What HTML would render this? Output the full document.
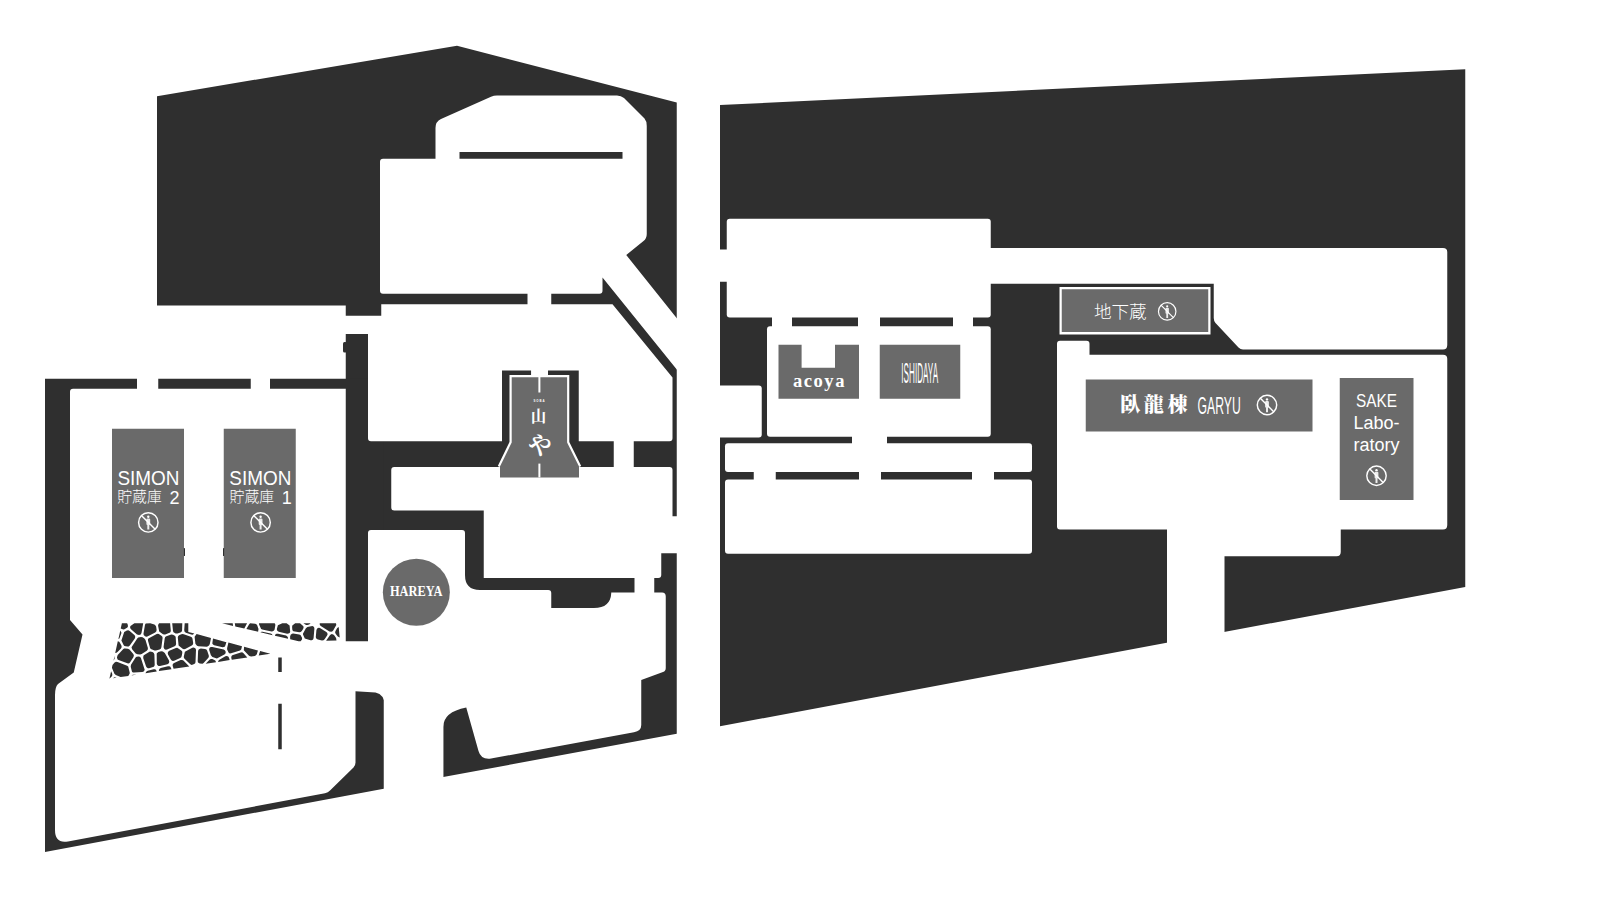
<!DOCTYPE html>
<html lang="ja">
<head>
<meta charset="utf-8">
<title>Floor Map</title>
<style>
  html, body { margin: 0; padding: 0; background: #ffffff; }
  body { width: 1599px; height: 905px; overflow: hidden; position: relative; }
  svg { position: absolute; left: 0; top: 0; display: block; }
  .dk { fill: #2f2f2f; }
  .wh { fill: #ffffff; }
  .gy { fill: #6a6a6a; }
  text { fill: #ffffff; }
  .sans { font-family: "Liberation Sans", "Noto Sans CJK JP", sans-serif; }
  .serif { font-family: "Liberation Serif", "Noto Serif CJK SC", serif; }
  .cjk { font-family: "Liberation Sans", "Noto Sans CJK JP", sans-serif; font-weight: 300; }
  .ic circle { fill: none; stroke: #ffffff; }
  .ic line { stroke: #ffffff; }
  .ic path { fill: #ffffff; fill-opacity: 0.88; }
</style>
</head>
<body>
<svg width="1599" height="905" viewBox="0 0 1599 905">
<defs>
  <g id="noentry" class="ic">
    <circle cx="0" cy="0" r="9.7"/>
    <circle cx="0" cy="-5.6" r="1.2" style="fill:#fff;stroke:none"/>
    <path d="M-1.9,-2.9 Q-1.9,-4 -0.8,-4 H0.8 Q1.9,-4 1.9,-2.9 V1.4 Q1.9,2.6 1,2.6 V7.2 H-1 V2.6 Q-1.9,2.6 -1.9,1.4 Z"/>
    <line x1="-6.9" y1="-6.9" x2="6.9" y2="6.9"/>
  </g>
</defs>

<!-- ===================== LEFT COMPLEX : dark base ===================== -->
<g id="left-dark" class="dk">
  <path d="M157,96.25 L457,45.75 L676.75,102.5 L676.75,733.75 L443.25,777 L443.25,641.25 L345.75,641.25 L345.75,305.5 L157,305.5 Z"/>
  <path d="M45,378.75 L383.75,378.75 L383.75,788.75 L45,852 Z"/>
  <rect x="343" y="342" width="4" height="10.5" rx="1.5"/>
</g>

<!-- ===================== LEFT COMPLEX : white rooms ===================== -->
<g id="left-white" class="wh">
  <!-- upper rooms + diagonal corridor -->
  <path d="M380,161.75 Q380,158.75 383,158.75 H435.5 V128 Q435.5,121.5 441,119 L491,96.8 Q493.75,95.5 497,95.5 H617 Q621,95.5 624,98 L644.5,118.5 Q646.75,121 646.75,126 V234 Q646.75,238.5 643.5,241 L626.25,255 L680,322.2 V373.4 L602.5,277.5 V290.75 Q602.5,293.75 599.5,293.75 H383 Q380,293.75 380,290.75 Z"/>
  <rect x="527.5" y="292" width="23.75" height="14"/>
  <!-- middle room -->
  <path d="M381.25,304.25 H612.5 L672.5,377.5 V438.25 Q672.5,441.25 669.5,441.25 H371 Q368,441.25 368,438.25 V334 H340 V315.75 H381.25 Z"/>
  <rect x="613.75" y="438" width="20" height="32"/>
  <!-- room 3 -->
  <path d="M394.25,467 H669.5 Q672.5,467 672.5,470 V516.25 H680 V553.25 H661.25 V575 Q661.25,578 658.25,578 H483.75 V510.5 H394.25 Q391.25,510.5 391.25,507.5 V470 Q391.25,467 394.25,467 Z"/>
  <rect x="634.5" y="576" width="19.75" height="18"/>
  <!-- HAREYA room -->
  <path d="M368,533 Q368,530 371,530 H462 Q465,530 465,533 V575 Q465,590 480,590 H548.25 Q551.25,590 551.25,593 V608 H594 Q610.5,608 611.25,593 V592.5 H662 Q665.75,592.5 665.75,596.5 V668 Q665.75,671 663,672 L641.25,680 V725 Q641.25,731 634,732.3 L491,758.6 Q481,760 478.5,751 L466.25,707.5 Q443.25,712 443.25,727 V777 H440 V645 H368 Z"/>
  <!-- SIMON room + lower-left room -->
  <rect x="137" y="377" width="21.25" height="13"/>
  <rect x="250.75" y="377" width="19.25" height="13"/>
  <path d="M73,388.75 H345.75 V641.25 H385 V706 Q384.5,694.5 375.5,692.6 L355.5,691.3 V762.5 Q355.5,765.5 353.5,767.5 L330,790.5 Q328,792.5 325,793.2 L68,841.4 Q55,843.8 55,830 V695 Q55,687 58,684 L73.75,672.5 L82.5,634.5 L70,620 V391.75 Q70,388.75 73,388.75 Z"/>
</g>

<!-- ===================== LEFT COMPLEX : dark details ===================== -->
<g id="left-detail" class="dk">
  <rect x="459.5" y="152" width="163" height="6.75"/>
  <rect x="278.25" y="657.5" width="3.5" height="14.5"/>
  <rect x="278.25" y="703.75" width="3.5" height="45.5"/>
  <!-- soba frame -->
  <path d="M502,370.5 H531.25 V376 H548 V370.5 H578.75 V445 H502 Z"/>
</g>
<rect class="wh" x="531.25" y="369" width="16.75" height="7.5"/>

<!-- STONES -->
<g id="stones"><path class="dk" d="M243.8,650.2 L249.0,655.7 L250.0,656.3 L251.2,656.4 L254.8,655.9 L256.0,655.3 L256.8,654.2 L257.9,650.5 L244.1,646.8Z M143.7,635.0 L145.0,636.3 L146.2,636.7 L147.4,636.4 L155.2,632.4 L156.4,631.3 L156.6,629.7 L156.1,626.6 L155.5,625.4 L154.4,624.6 L150.2,623.3 L145.7,623.4 L145.0,624.7 L143.5,633.5Z M131.5,647.2 L132.1,649.3 L135.7,653.4 L137.4,654.3 L140.1,654.5 L141.7,654.1 L146.8,650.8 L147.8,649.5 L147.9,647.9 L145.5,639.9 L144.4,638.4 L142.6,637.3 L141.0,637.0 L138.2,637.6 L137.4,638.3Z M191.7,664.9 L194.2,664.1 L195.2,663.2 L195.5,662.0 L196.0,650.1 L195.7,648.8 L194.8,647.9 L193.6,647.5 L192.3,647.7 L184.9,651.8 L183.8,656.4 L183.9,657.7 L184.5,658.8 L190.3,664.2Z M210.9,646.9 L209.8,647.6 L209.2,648.8 L209.2,650.1 L210.9,655.3 L212.4,656.9 L216.9,658.4 L224.4,654.5 L225.3,653.7 L225.7,652.5 L225.5,651.2 L224.8,650.2 L223.7,649.6 L212.3,646.9Z M184.2,630.1 L184.6,631.7 L185.9,632.7 L191.2,634.6 L192.7,634.7 L194.3,633.5 L188.3,631.9 L188.3,623.3 L184.7,623.3Z M113.5,660.7 L114.6,658.8 L114.6,655.7Z M157.3,665.1 L158.5,666.0 L160.0,666.1 L167.4,664.2 L168.6,663.4 L169.3,662.0 L169.0,660.5 L164.8,652.9 L162.9,651.4 L161.1,651.2 L158.3,652.0 L156.7,653.5 L156.8,663.7Z M216.0,662.2 L215.5,660.8 L214.4,660.0 L212.3,659.1 L210.8,659.0 L209.5,659.8 L205.7,663.8Z M173.0,630.9 L173.5,632.2 L175.7,633.5 L177.5,633.5 L180.4,632.5 L181.6,631.7 L182.1,630.3 L182.3,623.3 L172.2,623.3Z M116.6,677.7 L114.5,677.3 L112.9,678.3Z M194.6,636.8 L195.4,643.8 L197.0,645.8 L198.3,646.3 L207.0,646.8 L209.0,645.4 L209.8,644.0 L211.0,637.9 L196.6,634.1Z M155.9,669.8 L154.8,669.3 L153.6,669.2 L147.7,670.7 L146.2,671.7 L145.5,673.2 L156.8,671.4Z M168.2,651.7 L167.7,653.0 L168.0,654.4 L170.8,659.5 L171.7,660.5 L172.8,660.9 L174.1,660.7 L180.2,658.0 L181.2,657.2 L181.7,656.1 L182.3,653.0 L182.2,651.6 L181.3,650.4 L177.2,647.8 L175.9,648.0 L169.3,650.8Z M128.7,646.4 L129.8,645.5 L134.8,638.4 L135.2,637.3 L135.1,636.0 L134.4,635.0 L129.7,630.9 L128.3,630.3 L126.9,630.5 L124.2,632.0 L121.4,640.6 L123.6,645.0 L124.4,645.9 L127.4,646.6Z M247.3,657.4 L243.3,653.0 L242.1,652.3 L240.7,652.4 L233.0,654.9 L231.9,655.6 L231.3,656.8 L231.3,658.1 L231.8,659.8Z M132.8,674.8 L131.4,675.4 L136.7,674.6Z M148.4,638.6 L147.9,639.6 L148.0,640.8 L150.1,648.0 L150.8,649.1 L154.6,650.5 L156.0,650.5 L159.6,649.5 L160.8,648.7 L161.4,647.3 L162.6,638.1 L162.4,636.7 L161.4,635.7 L159.2,634.2 L158.0,633.8 L156.7,634.0Z M260.1,651.1 L258.7,655.6 L270.4,653.8Z M127.9,648.7 L125.2,648.4 L124.1,648.6 L123.1,649.2 L117.7,655.0 L116.9,657.4 L117.6,659.4 L118.5,660.1 L128.1,663.6 L129.2,663.2 L130.0,662.4 L133.5,656.9 L133.9,655.3 L133.3,653.9 L129.5,649.6Z M115.8,675.0 L120.6,677.1 L128.3,675.9 L129.7,673.6 L129.7,672.5 L128.2,666.5 L127.1,665.8 L117.5,661.9 L116.0,661.8 L114.6,662.6 L112.5,665.0 L111.9,667.7 L114.4,673.7Z M229.0,657.8 L228.2,656.6 L226.8,656.0 L225.4,656.3 L219.4,659.7 L218.4,660.7 L218.1,661.9 L229.7,660.1Z M159.2,631.4 L163.0,634.2 L164.1,634.6 L165.2,634.5 L170.1,632.5 L170.7,631.6 L170.8,630.5 L170.1,623.3 L159.1,623.3 L158.2,624.7 L158.1,625.8Z M173.1,663.7 L172.6,664.8 L172.7,666.0 L173.6,668.8 L189.3,666.4 L183.4,660.6 L182.1,659.9 L180.6,660.1 L174.1,662.9Z M111.7,676.4 L112.3,675.2 L112.2,673.7 L111.1,671.2 L109.4,678.8Z M159.6,668.8 L158.9,670.0 L159.0,671.1 L171.5,669.2 L170.4,666.8 L169.3,666.2 L168.0,666.2 L160.8,668.1Z M228.7,652.8 L229.8,653.4 L231.1,653.3 L240.0,650.4 L241.2,649.6 L242.0,646.2 L228.4,642.6 L227.1,648.2 L227.2,649.7Z M178.6,645.6 L182.6,648.8 L183.9,649.3 L185.2,649.0 L191.8,645.6 L192.9,644.5 L193.2,643.0 L192.5,638.7 L192.0,637.5 L190.8,636.7 L183.8,634.2 L182.1,634.1 L179.5,635.0 L178.2,636.0 L177.8,637.6Z M197.9,662.2 L198.7,663.1 L199.8,663.6 L202.5,663.8 L203.6,663.1 L208.2,658.0 L208.8,656.9 L208.8,655.5 L207.2,650.7 L206.4,649.5 L205.0,649.0 L200.8,648.6 L199.5,648.9 L198.5,649.8 L198.1,651.1 L197.7,661.0Z M213.0,638.5 L212.3,643.5 L213.0,644.5 L214.2,645.2 L222.6,647.2 L223.9,647.1 L225.0,646.4 L226.4,642.3Z M144.7,669.8 L141.0,658.2 L140.2,657.0 L138.9,656.5 L136.6,656.7 L135.6,657.6 L131.0,664.8 L130.7,666.7 L132.0,671.7 L132.9,672.4 L134.1,672.6 L142.2,672.1 L143.3,671.8 L144.1,671.0Z M119.4,638.4 L121.3,633.5 L121.4,632.4 L120.3,630.6 L118.4,638.9Z M163.8,648.1 L164.6,649.2 L165.8,649.7 L167.1,649.5 L174.6,646.3 L175.8,645.3 L176.1,643.8 L175.7,637.3 L175.2,636.0 L173.0,634.7 L171.3,634.6 L166.4,636.3 L165.2,637.1 L164.7,638.4 L163.6,646.8Z M153.8,666.8 L154.5,665.8 L154.7,664.7 L154.4,654.5 L153.8,653.0 L152.5,652.1 L149.9,651.6 L144.2,655.0 L143.4,655.8 L143.2,658.0 L146.1,666.5 L146.8,667.6 L147.9,668.2 L149.1,668.2Z M130.5,626.0 L130.1,627.1 L130.3,628.3 L131.0,629.3 L137.0,634.5 L139.0,635.1 L140.7,634.4 L141.5,633.0 L143.2,623.3 L134.4,623.3Z M121.7,647.0 L121.4,645.4 L119.9,642.7 L119.2,641.8 L117.8,641.3 L115.2,652.9 L116.5,652.8 L117.5,652.1 L121.0,648.4Z M120.7,628.4 L123.3,629.6 L124.5,629.3 L127.4,627.6 L128.0,626.3 L127.7,624.4 L127.1,623.3 L121.9,623.3Z M319.1,627.8 L317.8,628.1 L316.9,629.0 L316.4,630.2 L315.8,636.9 L316.0,638.1 L316.8,639.1 L317.9,639.6 L322.0,640.4 L323.5,640.2 L324.6,639.3 L327.1,635.6 L327.6,634.3 L327.3,633.0 L326.4,632.0 L320.3,628.2Z M338.7,626.9 L337.2,627.9 L335.5,630.9 L335.1,632.3 L335.6,633.7 L337.8,636.6 L339.7,637.6Z M276.5,633.7 L275.3,634.6 L274.9,635.7 L288.1,638.8 L287.8,636.9 L286.1,635.6 L278.0,633.7Z M295.2,623.3 L292.3,625.6 L292.1,626.9 L292.3,629.4 L292.6,630.5 L293.4,631.3 L299.3,632.3 L300.7,632.0 L301.8,631.0 L303.2,628.7 L303.6,627.5 L303.4,626.3 L300.0,623.3Z M272.6,635.2 L271.8,633.9 L270.7,633.4 L262.6,631.7 L261.5,631.7 L260.4,632.3Z M336.5,640.6 L336.1,637.9 L334.0,635.1 L333.1,634.4 L331.9,634.1 L330.8,634.4 L329.9,635.2 L326.1,640.8Z M311.8,640.3 L313.1,639.5 L313.6,638.1 L314.4,628.8 L314.2,627.6 L313.5,626.6 L312.4,626.1 L307.4,627.1 L305.9,628.3 L302.9,633.7 L303.1,634.8 L304.8,638.4 L310.4,640.3Z M258.1,631.8 L258.5,629.1 L257.2,625.3 L256.4,624.2 L255.2,623.7 L250.1,623.3 L249.0,624.4 L246.4,629.0Z M319.7,623.3 L319.8,625.0 L320.8,626.0 L329.4,631.4 L331.3,631.8 L332.5,631.3 L333.2,630.5 L336.3,625.1 L336.0,623.3Z M303.4,623.3 L306.1,625.0 L307.3,625.0 L309.2,624.5 L310.6,623.3Z M259.1,624.5 L261.1,628.9 L262.2,629.5 L271.5,631.4 L272.9,631.3 L274.0,630.6 L274.6,629.4 L275.3,625.6 L275.3,624.5 L274.7,623.3 L259.0,623.3Z M247.1,623.3 L234.8,623.3 L235.3,626.4 L244.3,628.5Z M232.7,623.3 L222.0,623.3 L233.1,625.9Z M289.6,625.6 L286.6,623.3 L282.3,623.3 L277.9,625.3 L276.9,628.7 L276.9,630.0 L277.6,631.1 L278.8,631.7 L287.1,633.7 L288.5,633.6 L289.6,632.9 L290.2,631.9Z M300.7,641.3 L302.1,639.2 L302.0,637.8 L300.5,634.9 L299.2,634.4 L293.2,633.6 L292.0,633.8 L290.7,634.8 L290.1,636.6 L290.2,639.3 L298.6,641.3Z"/></g>

<!-- ===================== RIGHT COMPLEX ===================== -->
<g id="right-dark" class="dk">
  <path d="M720,105 L1465.25,69.25 L1465.25,587 L720,726.25 Z"/>
</g>
<g id="right-white" class="wh">
  <rect x="726.75" y="218.75" width="264" height="98.75" rx="3"/>
  <rect x="715" y="249.5" width="15" height="32.25"/>
  <path d="M985,248 H1443 Q1447.25,248 1447.25,252 V345 Q1447.25,349.5 1443,349.5 H1243 Q1240.5,349.5 1238.5,347.5 L1215.5,323 Q1213.75,321 1213.75,318 V283.75 H985 Z"/>
  <rect x="772" y="316" width="20" height="12"/>
  <rect x="858" y="316" width="22" height="12"/>
  <rect x="953" y="316" width="20" height="12"/>
  <rect x="767" y="326.25" width="223.75" height="110.5" rx="3"/>
  <path d="M715,385.5 H758.75 Q761.75,385.5 761.75,388.5 V434.5 Q761.75,437.5 758.75,437.5 H715 Z"/>
  <rect x="852" y="435" width="35" height="10"/>
  <rect x="725" y="443.25" width="307" height="28.75" rx="3"/>
  <rect x="753.75" y="470" width="22" height="11"/>
  <rect x="859" y="470" width="22" height="11"/>
  <rect x="972" y="470" width="22" height="11"/>
  <rect x="725" y="479.5" width="307" height="74.25" rx="3"/>
  <path d="M1060,340.75 H1086.5 Q1089.5,340.75 1089.5,343.75 V354.8 H1443 Q1447.25,354.8 1447.25,358.8 V525 Q1447.25,529.5 1443,529.5 H1340.75 V552 Q1340.75,556.25 1336.5,556.25 H1224.5 V650 H1167 V529.5 H1060 Q1057,529.5 1057,526.5 V343.75 Q1057,340.75 1060,340.75 Z"/>
</g>

<!-- ===================== GRAY BOXES + LABELS ===================== -->
<g id="labels">
  <!-- SIMON 2 -->
  <rect class="gy" x="112" y="428.75" width="72" height="149.25"/>
  <text class="sans" x="148.5" y="485.2" font-size="19.6" text-anchor="middle" textLength="62" lengthAdjust="spacingAndGlyphs">SIMON</text>
  <text class="cjk" x="117.3" y="502" font-size="14.8">貯蔵庫</text>
  <text class="sans" x="174.4" y="504.2" font-size="18" text-anchor="middle">2</text>
  <use href="#noentry" stroke-width="1.45" transform="translate(148.3,522.4) scale(1)"/>
  <!-- SIMON 1 -->
  <rect class="gy" x="223.75" y="428.75" width="72" height="149.25"/>
  <text class="sans" x="260.3" y="485.2" font-size="19.6" text-anchor="middle" textLength="62" lengthAdjust="spacingAndGlyphs">SIMON</text>
  <text class="cjk" x="229.6" y="502" font-size="14.8">貯蔵庫</text>
  <text class="sans" x="286.8" y="504.2" font-size="18" text-anchor="middle">1</text>
  <use href="#noentry" stroke-width="1.45" transform="translate(260.6,522.4) scale(1)"/>

  <rect class="dk" x="183.9" y="548" width="1.1" height="8" rx="0.5"/>
  <rect class="dk" x="223" y="548" width="1.1" height="8" rx="0.5"/>
  <!-- HAREYA -->
  <circle class="gy" cx="416.35" cy="592.2" r="33.5"/>
  <text class="serif" x="416.2" y="595.8" font-size="13.6" font-weight="bold" text-anchor="middle" textLength="52.5" lengthAdjust="spacingAndGlyphs">HAREYA</text>

  <!-- SOBA yamaya -->
  <path class="gy" d="M510.6,376.1 H568.2 V442.2 L579,466.4 V477.4 H500 V466.4 L510.6,442.2 Z"/>
  <path d="M498.8,466.4 L510.6,442.2 V376.1 H568.2 V442.2 L580.2,466.4" fill="none" stroke="#fff" stroke-width="2.2"/>
  <rect class="wh" x="538.4" y="375" width="2" height="17.5"/>
  <rect class="wh" x="538.4" y="463.6" width="2" height="13.8"/>
  <text class="sans" x="539.4" y="401.5" font-size="2.9" font-weight="bold" text-anchor="middle" letter-spacing="0.9">SOBA</text>
  <text class="serif" x="538.5" y="422.3" font-size="15.5" font-weight="bold" text-anchor="middle">山</text>
  <text class="serif" x="540" y="453.5" font-size="23.5" font-weight="bold" text-anchor="middle">や</text>

  <!-- acoya -->
  <rect class="gy" x="778.5" y="344.75" width="80.5" height="54"/>
  <rect class="wh" x="801.6" y="344" width="33.4" height="23.75"/>
  <text class="serif" x="819.5" y="386.9" font-size="18.6" font-weight="bold" text-anchor="middle" letter-spacing="1.5">acoya</text>

  <!-- ISHIDAYA -->
  <rect class="gy" x="879.75" y="344.75" width="80.5" height="54"/>
  <text class="sans" transform="translate(919.7,382.75) scale(0.29,1.06)" x="0" y="0" font-size="28" text-anchor="middle">ISHIDAYA</text>

  <!-- chikagura -->
  <rect class="wh" x="1059.5" y="287" width="151" height="47.5"/>
  <rect class="gy" x="1061.75" y="289.25" width="146.5" height="42.75"/>
  <text class="cjk" x="1120.3" y="318" font-size="17.6" text-anchor="middle">地下蔵</text>
  <use href="#noentry" stroke-width="1.3" transform="translate(1167.2,311.4) scale(0.9)"/>

  <!-- GARYU -->
  <rect class="gy" x="1085.75" y="379.5" width="226.75" height="52"/>
  <text class="serif" x="1155.6" y="412.4" font-size="20" font-weight="900" text-anchor="middle" letter-spacing="3.6">臥龍棟</text>
  <text class="sans" transform="translate(1219.2,413.75) scale(0.52,1)" x="0" y="0" font-size="23.5" text-anchor="middle">GARYU</text>
  <use href="#noentry" stroke-width="1.45" transform="translate(1267,405) scale(1)"/>

  <!-- SAKE Laboratory -->
  <rect class="gy" x="1339.75" y="378" width="73.75" height="122"/>
  <text class="sans" x="1376.5" y="406.75" font-size="19" text-anchor="middle" textLength="41" lengthAdjust="spacingAndGlyphs">SAKE</text>
  <text class="sans" x="1376.5" y="429.25" font-size="18" text-anchor="middle">Labo-</text>
  <text class="sans" x="1376.5" y="451.25" font-size="18" text-anchor="middle">ratory</text>
  <use href="#noentry" stroke-width="1.45" transform="translate(1376.5,475.75) scale(1)"/>
</g>
</svg>
</body>
</html>
